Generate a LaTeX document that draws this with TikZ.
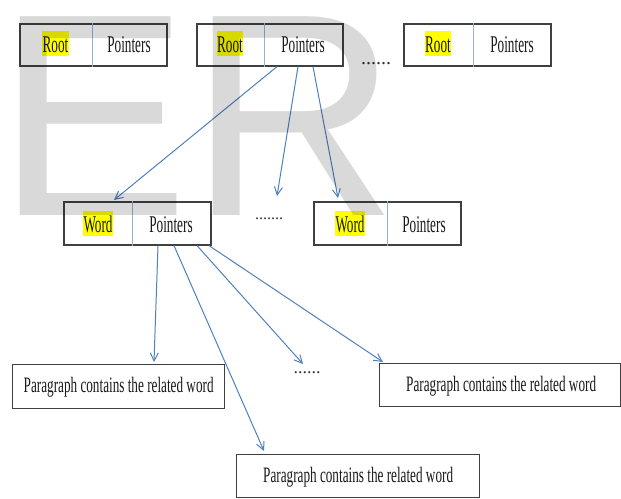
\documentclass[tikz,border=0pt]{standalone}
\usepackage{fontspec}
\usepackage{graphicx}
\setmainfont{Liberation Serif}
\newfontfamily\wmfont{Liberation Sans}
\usetikzlibrary{arrows.meta,calc}
\definecolor{arrowblue}{HTML}{4F81BD}
\definecolor{divblue}{HTML}{95B3D7}
\definecolor{hlyellow}{HTML}{FFFF00}
\newcommand\bxt[1]{\scalebox{0.55}[1]{\fontsize{24}{26}\selectfont #1}}
\newcommand\pxt[1]{\scalebox{0.6}[1]{\fontsize{22}{24}\selectfont #1}}
\tikzset{
  x=1pt, y=-1pt,
  cellbox/.style={draw=black!75, line width=1.6pt, fill=white, inner sep=0pt, anchor=north west},
  parabox/.style={draw=black!75, line width=1.3pt, fill=white, inner sep=0pt, anchor=north west},
  divline/.style={draw=divblue, line width=0.9pt},
  hl/.style={fill=hlyellow, inner xsep=0.3pt, inner ysep=0pt, text height=21pt, text depth=4pt, anchor=base, text=black!90},
  lbl/.style={inner sep=0pt, anchor=base, text=black!90},
  ptr/.style={draw=arrowblue, line width=1pt, -{Straight Barb[length=8pt,width=8pt,line width=1pt]}},
  dotsl/.style={inner sep=0pt, anchor=base, text=black!80}
}
\begin{document}
\begin{tikzpicture}
\useasboundingbox (0,0) rectangle (621,498);
\fill[white] (0,0) rectangle (621,498);

% Root boxes
\node[cellbox, minimum width=147pt, minimum height=42pt] (r1) at (19,23) {};
\node[cellbox, minimum width=146pt, minimum height=42pt] (r2) at (196,23) {};
\node[cellbox, minimum width=147pt, minimum height=42pt] (r3) at (403,23) {};
\draw[divline] ($(r1.north west)+(73,0)$) -- ($(r1.south west)+(73,0)$);
\draw[divline] ($(r2.north west)+(68,0)$) -- ($(r2.south west)+(68,0)$);
\draw[divline] ($(r3.north west)+(70,0)$) -- ($(r3.south west)+(70,0)$);
\node[hl] (r1a) at (55.5,52) {\bxt{Root}};
\node[lbl] (r1b) at (129,52) {\bxt{Pointers}};
\node[hl] (r2a) at (230,52) {\bxt{Root}};
\node[lbl] (r2b) at (303,52) {\bxt{Pointers}};
\node[hl] (r3a) at (438,52) {\bxt{Root}};
\node[lbl] (r3b) at (512,52) {\bxt{Pointers}};
\node[dotsl] (d1) at (376,64) {\fontsize{20}{22}\selectfont ......};

% Word boxes
\node[cellbox, minimum width=147pt, minimum height=43pt] (w1) at (63,201) {};
\node[cellbox, minimum width=147pt, minimum height=43pt] (w2) at (313,201) {};
\draw[divline] ($(w1.north west)+(69,0)$) -- ($(w1.south west)+(69,0)$);
\draw[divline] ($(w2.north west)+(74,0)$) -- ($(w2.south west)+(74,0)$);
\node[hl] (w1a) at (98,232) {\bxt{Word}};
\node[lbl] (w1b) at (171,232) {\bxt{Pointers}};
\node[hl] (w2a) at (350,232) {\bxt{Word}};
\node[lbl] (w2b) at (424,232) {\bxt{Pointers}};
\node[dotsl] (d2) at (269,219) {\fontsize{16}{18}\selectfont .......};

% Paragraph boxes
\node[parabox, minimum width=212pt, minimum height=44pt] (p1) at (12,364) {};
\node[parabox, minimum width=241pt, minimum height=43pt] (p2) at (379,363) {};
\node[parabox, minimum width=243pt, minimum height=43pt] (p3) at (236,454) {};
\node[lbl] (p1t) at ($(p1.center)+(0,6)$) {\pxt{Paragraph contains the related word}};
\node[lbl] (p2t) at ($(p2.center)+(1,6)$) {\pxt{Paragraph contains the related word}};
\node[lbl] (p3t) at ($(p3.center)+(0,6)$) {\pxt{Paragraph contains the related word}};
\node[dotsl] (d3) at (307,373) {\fontsize{18}{20}\selectfont ......};

% free arrow ends
\coordinate (eB) at (277,196);
\coordinate (eF) at (303,364);

% arrows from root box 2
\draw[ptr] ($(r2.south west)+(81,0)$) -- ($(w1.north west)+(51,-1)$);
\draw[ptr] ($(r2.south west)+(102,0)$) -- (eB);
\draw[ptr] ($(r2.south west)+(117,0)$) -- ($(w2.north west)+(25,-3)$);

% arrows from word box 1
\draw[ptr] ($(w1.south west)+(95,0)$) -- ($(p1.north west)+(142,-2)$);
\draw[ptr] ($(w1.south west)+(111,0)$) -- ($(p3.north west)+(28,-3)$);
\draw[ptr] ($(w1.south west)+(134,0)$) -- (eF);
\draw[ptr] ($(w1.south west)+(146,0)$) -- ($(p2.north west)+(4,-1)$);

% watermark
\node[inner sep=0pt, anchor=base west, text=black, text opacity=0.15] (wm) at (-3.3,215)
  {\wmfont\fontsize{289}{289}\selectfont ER};
\end{tikzpicture}
\end{document}
